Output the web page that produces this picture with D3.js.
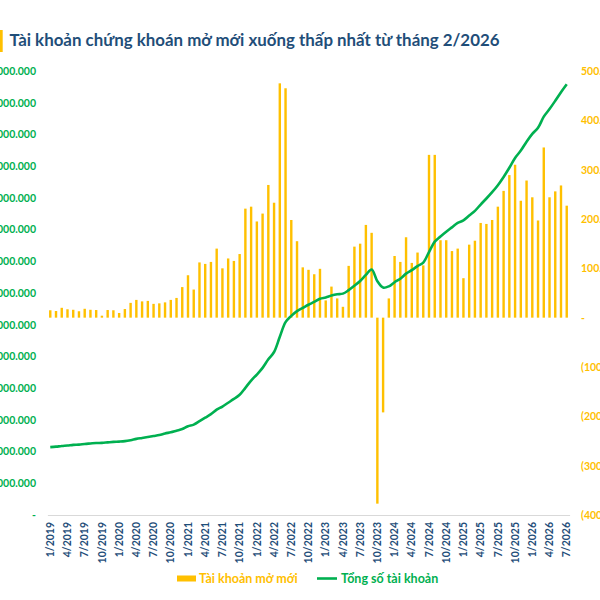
<!DOCTYPE html>
<html>
<head>
<meta charset="utf-8">
<script src="https://cdn.jsdelivr.net/npm/d3@7"></script>
<style>
  html, body { margin: 0; padding: 0; background: #fff; }
  svg { display: block; font-family: Lato, "Open Sans", sans-serif; }
</style>
</head>
<body>
<svg id="chart" width="600" height="600"></svg>
<script>
// months 1/2019 .. 7/2026
const months = [];
for (let y = 2019; y <= 2026; y++) {
  for (let m = 1; m <= 12; m++) {
    if (y === 2026 && m > 7) break;
    months.push(`${m}/${y}`);
  }
}

// new accounts per month (right axis)
const newAccounts = [
  15000, 13500, 20000, 17000, 16000, 13000, 18000, 16000, 15500, 4000, 15500, 15000,
  9500, 17500, 30000, 36000, 33000, 34000, 28000, 29000, 31000, 36000, 40000, 62000,
  86000, 57000, 112000, 109000, 113000, 140000, 100000, 120000, 115000, 129000, 221000, 225000,
  195000, 211000, 269000, 233000, 475000, 465000, 198000, 155000, 102000, 97000, 88000, 99000,
  35000, 63000, 39000, 22000, 105000, 144000, 150000, 188000, 172000, -377000, -192000, 39000,
  125000, 113000, 163000, 111000, 132000, 106000, 330000, 330000, 157000, 157000, 135000, 140000,
  80000, 148000, 156000, 192000, 190000, 198000, 225000, 257000, 289000, 310000, 237000, 278000,
  244000, 197000, 345000, 244000, 256000, 268000, 227000
];

// total accounts (left axis), millions
const totalAccounts = [
  2.14, 2.155, 2.175, 2.19, 2.21, 2.22, 2.24, 2.255, 2.27, 2.275, 2.29, 2.305,
  2.315, 2.33, 2.36, 2.40, 2.43, 2.46, 2.49, 2.52, 2.57, 2.61, 2.66, 2.71,
  2.80, 2.85, 2.96, 3.07, 3.18, 3.32, 3.42, 3.54, 3.66, 3.79, 4.01, 4.24,
  4.43, 4.64, 4.91, 5.14, 5.62, 6.08, 6.28, 6.43, 6.53, 6.63, 6.72, 6.82,
  6.86, 6.92, 6.96, 6.98, 7.09, 7.23, 7.38, 7.57, 7.74, 7.37, 7.17, 7.21,
  7.34, 7.45, 7.61, 7.72, 7.85, 7.96, 8.29, 8.62, 8.78, 8.93, 9.07, 9.21,
  9.29, 9.44, 9.59, 9.79, 9.98, 10.18, 10.40, 10.66, 10.95, 11.26, 11.49, 11.77,
  12.02, 12.21, 12.56, 12.80, 13.06, 13.33, 13.58
].map(v => v * 1e6);

const leftTicks = d3.range(0, 14000001, 1000000);
const rightTicks = d3.range(-400000, 500001, 100000);

const title = 'Tài khoản chứng khoán mở mới xuống thấp nhất từ tháng 2/2026';
const legendLabels = ['Tài khoản mở mới', 'Tổng số tài khoản'];

const colors = {
  bar: '#ffc000',
  line: '#00b050',
  title: '#1f4e79',
  axis: '#d9d9d9'
};

const vn = d3.formatLocale({ decimal: ',', thousands: '.', grouping: [3], currency: ['', ''] });
const fmt = vn.format(',d');

const svg = d3.select('#chart');
const plotTop = 71;
const plotBottom = 515;

const x = d3.scaleBand()
  .domain(months)
  .range([47.4, 569.6])
  .paddingInner(0.58)
  .paddingOuter(0.29);

const yLeft = d3.scaleLinear().domain([0, 14000000]).range([plotBottom, plotTop]);
const yRight = d3.scaleLinear().domain([-400000, 500000]).range([plotBottom, plotTop]);

// title
svg.append('rect')
  .attr('x', 0).attr('y', 30)
  .attr('width', 2.7).attr('height', 22)
  .attr('fill', colors.bar);

svg.append('text')
  .attr('x', 9.5).attr('y', 46)
  .attr('fill', colors.title)
  .attr('font-size', 17.6)
  .attr('font-weight', 700)
  .attr('textLength', 490)
  .attr('lengthAdjust', 'spacingAndGlyphs')
  .text(title);

// left axis (labels run off the left edge, as in the source)
const gLeft = svg.append('g')
  .attr('transform', 'translate(36,0)')
  .call(d3.axisLeft(yLeft).tickValues(leftTicks).tickSize(0).tickPadding(0)
    .tickFormat(d => d === 0 ? '-  ' : fmt(d)));
gLeft.select('.domain').remove();
gLeft.selectAll('text')
  .attr('fill', colors.line)
  .attr('font-size', 10.5)
  .attr('font-weight', 700)
  .attr('font-family', 'Lato, sans-serif');

// right axis
const gRight = svg.append('g')
  .attr('transform', 'translate(581,0)')
  .call(d3.axisRight(yRight).tickValues(rightTicks).tickSize(0).tickPadding(0)
    .tickFormat(d => d === 0 ? ' -' : d < 0 ? `(${fmt(-d)})` : fmt(d)));
gRight.select('.domain').remove();
gRight.selectAll('text')
  .attr('fill', colors.bar)
  .attr('font-size', 10.5)
  .attr('font-weight', 700)
  .attr('font-family', 'Lato, sans-serif');

// bars
svg.append('g')
  .selectAll('rect')
  .data(newAccounts)
  .join('rect')
  .attr('x', (d, i) => x(months[i]))
  .attr('width', x.bandwidth())
  .attr('y', d => yRight(Math.max(0, d)))
  .attr('height', d => Math.abs(yRight(d) - yRight(0)))
  .attr('fill', colors.bar);

// x axis
const gX = svg.append('g')
  .attr('transform', `translate(0,${plotBottom})`)
  .call(d3.axisBottom(x).tickValues(months.filter((d, i) => i % 3 === 0)).tickSize(0).tickPadding(0));
gX.select('.domain')
  .attr('stroke', colors.axis)
  .attr('stroke-width', 1);
gX.selectAll('text')
  .attr('fill', colors.title)
  .attr('font-size', 10.5)
  .attr('font-weight', 700)
  .attr('font-family', 'Lato, sans-serif')
  .attr('text-anchor', 'end')
  .attr('y', 0)
  .attr('dy', '0.35em')
  .attr('transform', 'translate(0,7) rotate(-90)');

// total line
const line = d3.line()
  .x((d, i) => x(months[i]) + x.bandwidth() / 2)
  .y(d => yLeft(d))
  .curve(d3.curveCatmullRom);

svg.append('path')
  .datum(totalAccounts)
  .attr('d', line)
  .attr('fill', 'none')
  .attr('stroke', colors.line)
  .attr('stroke-width', 2.6)
  .attr('stroke-linejoin', 'round');

// legend
const legend = svg.append('g').attr('font-size', 12.5).attr('font-weight', 700);
legend.append('rect')
  .attr('x', 177).attr('y', 575.5)
  .attr('width', 19).attr('height', 6)
  .attr('fill', colors.bar);
legend.append('text')
  .attr('x', 199).attr('y', 582.5)
  .attr('fill', colors.bar)
  .text(legendLabels[0]);
legend.append('line')
  .attr('x1', 317).attr('x2', 337)
  .attr('y1', 578.5).attr('y2', 578.5)
  .attr('stroke', colors.line)
  .attr('stroke-width', 2.6);
legend.append('text')
  .attr('x', 341).attr('y', 582.5)
  .attr('fill', colors.line)
  .text(legendLabels[1]);
</script>
</body>
</html>
